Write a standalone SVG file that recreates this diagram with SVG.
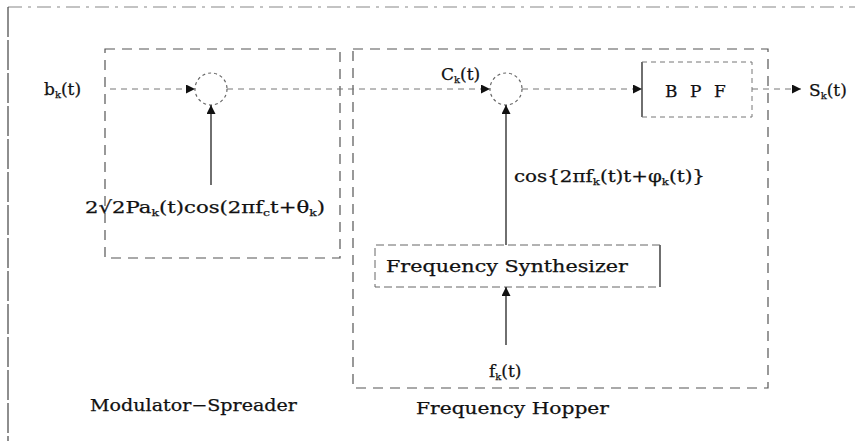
<svg xmlns="http://www.w3.org/2000/svg" width="855" height="441" viewBox="0 0 855 441">
<style>
text{font-family:'DejaVu Serif','Liberation Serif',serif;fill:#111;font-size:17px;stroke:#111;stroke-width:0.25}
.sub{font-size:10px}
.frame{fill:none;stroke:#888;stroke-width:1.2;stroke-dasharray:14 6 3 6}
.box{fill:none;stroke:#555;stroke-width:1.2;stroke-dasharray:10 7}
.flow{fill:none;stroke:#777;stroke-width:1;stroke-dasharray:6 5}
.solid{fill:none;stroke:#222;stroke-width:1.3}
.mult{fill:none;stroke:#666;stroke-width:1.2;stroke-dasharray:3 3}
</style>
<defs>
<marker id="ah" viewBox="0 0 10 10" refX="10" refY="5" markerWidth="9" markerHeight="9" markerUnits="userSpaceOnUse" orient="auto">
<path d="M0,0 L10,5 L0,10 z" fill="#111"/>
</marker>
</defs>
<rect width="855" height="441" fill="#fff"/>
<g id="frame">
<line x1="8" y1="7" x2="855" y2="7" class="frame"/>
<line x1="8" y1="7" x2="8" y2="441" stroke="#444" stroke-width="1.2" stroke-dasharray="30 3"/>
</g>
<g id="modulator-spreader">
<rect x="105" y="49" width="235" height="209" class="box"/>
<text x="90" y="411" textLength="207" lengthAdjust="spacingAndGlyphs">Modulator−Spreader</text>
</g>
<g id="frequency-hopper">
<rect x="353" y="49" width="415" height="339" class="box"/>
<text x="416" y="414" textLength="193" lengthAdjust="spacingAndGlyphs">Frequency Hopper</text>
</g>
<g id="mult1">
<circle cx="211" cy="89" r="16" class="mult"/>
</g>
<g id="mult2">
<circle cx="506" cy="89" r="16" class="mult"/>
</g>
<g id="bpf">
<path d="M642,62 V117" stroke="#222" stroke-width="1.3"/>
<path d="M642,62 H752 V117 H642" fill="none" stroke="#777" stroke-width="1" stroke-dasharray="5 4"/>
<text x="665" y="97">B</text>
<text x="690" y="97">P</text>
<text x="714" y="97">F</text>
</g>
<g id="synthesizer">
<path d="M660,245 V287" stroke="#222" stroke-width="1.3"/>
<path d="M660,245 H375 V287 H660" fill="none" stroke="#666" stroke-width="1" stroke-dasharray="8 4"/>
<text x="386" y="272" textLength="242" lengthAdjust="spacingAndGlyphs">Frequency Synthesizer</text>
</g>
<g id="connectors">
<line x1="110" y1="89" x2="195" y2="89" class="flow" marker-end="url(#ah)"/>
<line x1="227" y1="89" x2="490" y2="89" class="flow" marker-end="url(#ah)"/>
<line x1="522" y1="89" x2="642" y2="89" class="flow" marker-end="url(#ah)"/>
<line x1="752" y1="89" x2="801" y2="89" class="flow" marker-end="url(#ah)"/>
<line x1="211" y1="185" x2="211" y2="105" class="solid" marker-end="url(#ah)"/>
<line x1="506" y1="245" x2="506" y2="105" class="solid" marker-end="url(#ah)"/>
<line x1="506" y1="345" x2="506" y2="287" class="solid" marker-end="url(#ah)"/>
</g>
<g id="labels">
<text x="44" y="95">b<tspan class="sub" dy="3">k</tspan><tspan dy="-3">(t)</tspan></text>
<text x="441" y="80">C<tspan class="sub" dy="3">k</tspan><tspan dy="-3">(t)</tspan></text>
<text x="809" y="96">S<tspan class="sub" dy="3">k</tspan><tspan dy="-3">(t)</tspan></text>
<text x="85" y="213" textLength="240" lengthAdjust="spacingAndGlyphs">2√2Pa<tspan class="sub" dy="3">k</tspan><tspan dy="-3">(t)cos(2πf</tspan><tspan class="sub" dy="3">c</tspan><tspan dy="-3">t+θ</tspan><tspan class="sub" dy="3">k</tspan><tspan dy="-3">)</tspan></text>
<text x="514" y="182" textLength="191" lengthAdjust="spacingAndGlyphs">cos{2πf<tspan class="sub" dy="3">k</tspan><tspan dy="-3">(t)t+φ</tspan><tspan class="sub" dy="3">k</tspan><tspan dy="-3">(t)}</tspan></text>
<text x="489" y="377">f<tspan class="sub" dy="3">k</tspan><tspan dy="-3">(t)</tspan></text>
</g>
</svg>
